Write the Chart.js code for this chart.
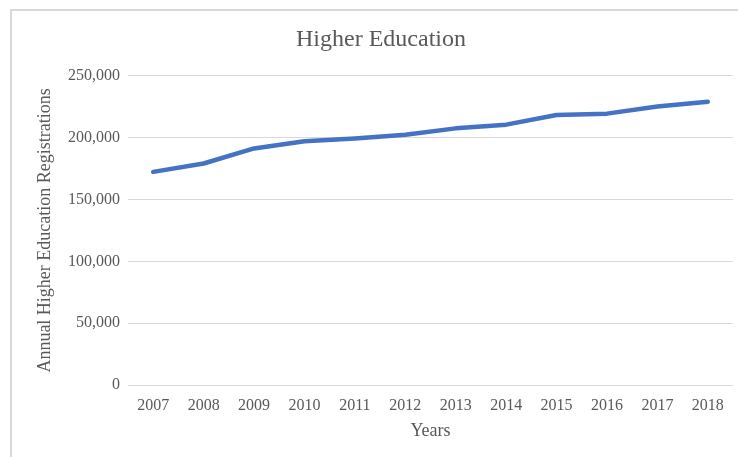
<!DOCTYPE html>
<html>
<head>
<meta charset="utf-8">
<title>Higher Education</title>
<script src="https://cdn.jsdelivr.net/npm/chart.js@4/dist/chart.umd.min.js"></script>
<style>
  html, body { margin: 0; padding: 0; background: #fff; overflow: hidden; }
  #frame {
    position: absolute; left: 10px; top: 9px; width: 740px; height: 460px;
    border-left: 2px solid #d9d9d9; border-top: 2px solid #d9d9d9;
  }
  #wrap { position: absolute; left: 0; top: 0; width: 738px; height: 457px; }
</style>
</head>
<body>
<div id="frame"></div>
<div id="wrap"><canvas id="chart" width="738" height="457"></canvas></div>
<script>
// Annual registrations per year
const years = ['2007', '2008', '2009', '2010', '2011', '2012', '2013', '2014', '2015', '2016', '2017', '2018'];
const registrations = [172300, 179100, 191300, 197000, 199400, 202400, 207500, 210500, 218300, 219400, 225100, 229100];
const yTicks = [0, 50000, 100000, 150000, 200000, 250000];

const serif = '"Liberation Serif", "Times New Roman", serif';
const grey = '#595959';

const ctx = document.getElementById('chart').getContext('2d');
new Chart(ctx, {
    type: 'line',
    data: {
        labels: years,
        datasets: [{
            label: 'Registrations',
            data: registrations,
            borderColor: '#4472C4',
            backgroundColor: '#4472C4',
            borderWidth: 4.5,
            borderCapStyle: 'round',
            borderJoinStyle: 'round',
            pointRadius: 0,
            tension: 0,
            fill: false
        }]
    },
    options: {
        responsive: false,
        animation: false,
        layout: { padding: { left: 29, right: 5, top: 0, bottom: 0 } },
        plugins: {
            legend: { display: false },
            tooltip: { enabled: false },
            title: {
                display: true,
                text: 'Higher Education',
                color: grey,
                font: { family: serif, size: 24, weight: 'normal' },
                padding: { top: 25, bottom: 22 }
            }
        },
        scales: {
            x: {
                offset: true,
                grid: { display: false, drawTicks: false },
                border: { display: false },
                ticks: {
                    color: grey,
                    padding: 11,
                    maxRotation: 0,
                    font: { family: serif, size: 16 }
                },
                title: {
                    display: true,
                    text: 'Years',
                    color: grey,
                    font: { family: serif, size: 18 },
                    padding: { top: 4, bottom: 15 }
                },
                afterFit: (scale) => { scale.height = 72; }
            },
            y: {
                min: 0,
                max: 250000,
                afterBuildTicks: (scale) => { scale.ticks = yTicks.map(v => ({ value: v })); },
                grid: { color: '#d9d9d9', lineWidth: 1, drawTicks: false },
                border: { display: false },
                ticks: {
                    color: grey,
                    padding: 8,
                    font: { family: serif, size: 16 },
                    callback: (v) => Number(v).toLocaleString('en-US')
                },
                title: {
                    display: true,
                    text: 'Annual Higher Education Registrations',
                    color: grey,
                    font: { family: serif, size: 18 },
                    padding: { top: 5, bottom: 0 }
                },
                afterFit: (scale) => { scale.width = 99; }
            }
        }
    }
});
</script>
</body>
</html>
